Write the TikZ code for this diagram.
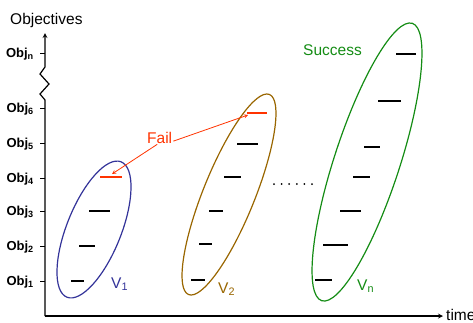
\documentclass[tikz,border=0pt]{standalone}
\usepackage{fontspec}
\setmainfont{Liberation Sans}

\definecolor{vone}{RGB}{51,51,153}
\definecolor{vtwo}{RGB}{153,102,0}
\definecolor{vlast}{RGB}{20,140,20}
\definecolor{failred}{RGB}{255,51,0}

\tikzset{
	lbl/.style={inner sep=0pt, font=\fontsize{15.5}{18}\selectfont},
	objlbl/.style={inner sep=0pt, anchor=base east, font=\bfseries\fontsize{13}{15}\selectfont},
	bar/.style={line width=1.6pt},
	loop/.style={line width=1.2pt}
}

\begin{document}
\begin{tikzpicture}[x=1pt, y=-1pt]
	\useasboundingbox (0,0) rectangle (473,322);
	
	% Axes
	\coordinate (O) at (45,316);
	\draw[line width=1.2pt, -stealth] (O) -- (45,100) -- (40,94) -- (49,84) -- (40,74) -- (45,67) -- (45,33);
	\draw[line width=1.2pt, -stealth] (O) -- (443,316);
	\node[lbl, anchor=base west] (ylabel) at (10,24) {Objectives};
	\node[lbl, anchor=base west] (xlabel) at (446,320) {time};
	
	% Ticks
	\foreach \y/\t in {281/1, 246/2, 211/3, 178/4, 143/5, 108/6, 53/n} {
		\draw[line width=1pt] (40,\y) -- (45,\y);
		\node[objlbl] (obj\t) at (34,\y+4.5) {Obj\textsubscript{\t}};
	}
	
	% V1
	\draw[vone, loop, rotate around={68.2:(94,229.5)}] (94,229.5) ellipse (72.9pt and 27.2pt);
	\draw[bar] (71,281) -- (84,281);
	\draw[bar] (79,246) -- (95,246);
	\draw[bar] (89,211) -- (110,211);
	\draw[bar, failred] (100,177) -- (122,177);
	\node[lbl, vone, anchor=base west] (v1) at (111,288) {V\textsubscript{1}};
	
	% V2
	\draw[vtwo, loop, rotate around={68:(229,194.5)}] (229,194.5) ellipse (107.9pt and 25.8pt);
	\draw[bar] (191,280) -- (205,280);
	\draw[bar] (199,244) -- (212,244);
	\draw[bar] (209,211) -- (223,211);
	\draw[bar] (224,177) -- (241,177);
	\draw[bar] (237,144) -- (258,144);
	\draw[bar, failred] (247,113) -- (267,113);
	\node[lbl, vtwo, anchor=base west] (v2) at (218,293) {V\textsubscript{2}};
	
	% Vn
	\draw[vlast, loop, rotate around={71.9:(367,162)}] (367,162) ellipse (145.9pt and 32.7pt);
	\draw[bar] (315,280) -- (332,280);
	\draw[bar] (323,245) -- (348,245);
	\draw[bar] (340,211) -- (361,211);
	\draw[bar] (353,177) -- (370,177);
	\draw[bar] (364,147) -- (380,147);
	\draw[bar] (378,101) -- (401,101);
	\draw[bar] (396,54) -- (416,54);
	\node[lbl, vlast, anchor=base west] (vn) at (357,290) {V\textsubscript{n}};
	\node[lbl, vlast, anchor=base west] (success) at (303,55) {Success};
	
	% dots between V2 and Vn
	\draw[line width=2pt, line cap=round, dash pattern=on 0pt off 7.6pt] (274,184) -- (312.5,184);
	
	% Fail arrows
	\node[lbl, failred, anchor=base west, inner sep=1pt] (fail) at (146,143) {Fail};
	\coordinate (fail1) at (112,174);
	\coordinate (fail2) at (248,115);
	\draw[failred, line width=0.8pt, -stealth] (fail.-110) -- (fail1);
	\draw[failred, line width=0.8pt, -stealth] (fail.-15) -- (fail2);
\end{tikzpicture}
\end{document}
